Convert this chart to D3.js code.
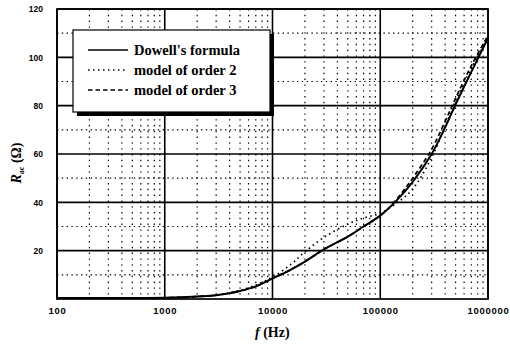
<!DOCTYPE html>
<html><head><meta charset="utf-8">
<script src="https://cdn.jsdelivr.net/npm/d3@7"></script>
<style>body{margin:0;background:#fff}svg{display:block}</style>
</head><body>
<svg id="c" width="510" height="347"></svg>
<script>
const freqs = [100, 200, 500, 1000, 2000, 3000, 4000, 5000, 7000, 10000, 15000, 20000, 30000, 50000, 70000, 100000, 140000, 200000, 300000, 400000, 500000, 700000, 1000000];
const dowell = [0.4, 0.4, 0.45, 0.5, 1.0, 1.6, 2.4, 3.3, 5.2, 8.5, 12.3, 15.5, 20.5, 25.8, 30, 34.5, 40.5, 48.5, 60, 71, 80.5, 94, 108];
const order2 = [0.4, 0.4, 0.45, 0.5, 1.0, 1.7, 2.6, 3.6, 5.8, 9, 14.5, 19.5, 25.5, 31, 33.5, 35.5, 39.5, 45.5, 58.5, 71.5, 82, 95.5, 108];
const order3 = [0.4, 0.4, 0.45, 0.5, 1.0, 1.6, 2.4, 3.3, 5.2, 8.5, 12.3, 15.5, 20.5, 25.8, 30, 34.5, 41, 50, 62, 73.5, 83, 96.5, 109];
const seriesNames = ["Dowell's formula", "model of order 2", "model of order 3"];
const xTicks = [100, 1000, 10000, 100000, 1000000];
const yTicks = [20, 40, 60, 80, 100, 120];
const yMinor = [10, 30, 50, 70, 90, 110];

const svg = d3.select("#c");
const L = 57, R = 488, T = 9, B = 299;
const x = d3.scaleLog().domain([100, 1e6]).range([L, R]);
const y = d3.scaleLinear().domain([0, 120]).range([B, T]);

// minor dotted grid
const xMinor = [];
for (let d = 100; d < 1e6; d *= 10) for (let k = 2; k <= 9; k++) xMinor.push(d * k);
svg.append("g").selectAll("line").data(xMinor).join("line")
  .attr("x1", d => x(d)).attr("x2", d => x(d)).attr("y1", T).attr("y2", B)
  .attr("stroke", "#000").attr("stroke-width", 1.2).attr("stroke-dasharray", "1.4,4.4");
svg.append("g").selectAll("line").data(yMinor).join("line")
  .attr("x1", L).attr("x2", R).attr("y1", d => y(d)).attr("y2", d => y(d))
  .attr("stroke", "#000").attr("stroke-width", 1.2).attr("stroke-dasharray", "1.4,3.4");
// major grid
svg.append("g").selectAll("line").data(xTicks).join("line")
  .attr("x1", d => x(d)).attr("x2", d => x(d)).attr("y1", T).attr("y2", B)
  .attr("stroke", "#000").attr("stroke-width", 1.6);
svg.append("g").selectAll("line").data(yTicks).join("line")
  .attr("x1", L).attr("x2", R).attr("y1", d => y(d)).attr("y2", d => y(d))
  .attr("stroke", "#000").attr("stroke-width", 1.6);
svg.append("rect").attr("x", L).attr("y", T).attr("width", R - L).attr("height", B - T)
  .attr("fill", "none").attr("stroke", "#000").attr("stroke-width", 1.7);

// axis labels
const xAxis = svg.append("g").attr("transform", `translate(0,${B})`)
  .call(d3.axisBottom(x).tickValues(xTicks).tickFormat(d3.format("d")).tickSize(0).tickPadding(8));
const yAxis = svg.append("g").attr("transform", `translate(${L},0)`)
  .call(d3.axisLeft(y).tickValues(yTicks).tickFormat(d3.format("d")).tickSize(0).tickPadding(14));
[xAxis, yAxis].forEach(g => {
  g.select(".domain").remove();
  g.selectAll("line").remove();
  g.selectAll("text").attr("font-family", "Liberation Sans, Arial, sans-serif").attr("font-weight", "bold").attr("fill", "#000");
});
xAxis.selectAll("text").attr("font-size", 9.5).attr("letter-spacing", 0.7);
yAxis.selectAll("text").attr("font-size", 8.5);

// curves
const line = d3.line().x(d => x(d[0])).y(d => y(d[1])).curve(d3.curveCatmullRom.alpha(0.5));
const data = [dowell, order2, order3].map(v => freqs.map((f, i) => [f, v[i]]));
const styles = [null, "1.5,3.5", "4.5,3"];
const widths = [2, 1.7, 1.7];
data.forEach((d, i) => {
  svg.append("path").datum(d).attr("d", line).attr("fill", "none").attr("stroke", "#000")
    .attr("stroke-width", widths[i]).attr("stroke-dasharray", styles[i]);
});

// legend
const lg = svg.append("g");
lg.append("rect").attr("x", 77).attr("y", 34).attr("width", 197).attr("height", 82).attr("fill", "#000");
lg.append("rect").attr("x", 73).attr("y", 30).attr("width", 197).attr("height", 82).attr("fill", "#fff").attr("stroke", "#000").attr("stroke-width", 1.2);
seriesNames.forEach((n, i) => {
  const yy = 50 + i * 20;
  lg.append("line").attr("x1", 88).attr("x2", 128).attr("y1", yy).attr("y2", yy)
    .attr("stroke", "#000").attr("stroke-width", 1.5).attr("stroke-dasharray", styles[i]);
  lg.append("text").attr("x", 134).attr("y", yy + 5).text(n)
    .attr("font-family", "Liberation Serif, Times New Roman, serif").attr("font-weight", "bold").attr("font-size", 14.5);
});

// axis titles
const xt = svg.append("text").attr("x", 255).attr("y", 337)
  .attr("font-family", "Liberation Serif, Times New Roman, serif").attr("font-weight", "bold").attr("font-size", 14);
xt.append("tspan").attr("font-style", "italic").text("f");
xt.append("tspan").text(" (Hz)");
const yt = svg.append("text").attr("transform", "translate(21,163) rotate(-90)").attr("text-anchor", "middle")
  .attr("font-family", "Liberation Serif, Times New Roman, serif").attr("font-weight", "bold").attr("font-size", 14);
yt.append("tspan").attr("font-style", "italic").text("R");
yt.append("tspan").attr("font-size", 8).attr("dy", 3).text("ac");
yt.append("tspan").attr("dy", -3).text(" (Ω)");
</script>
</body></html>
